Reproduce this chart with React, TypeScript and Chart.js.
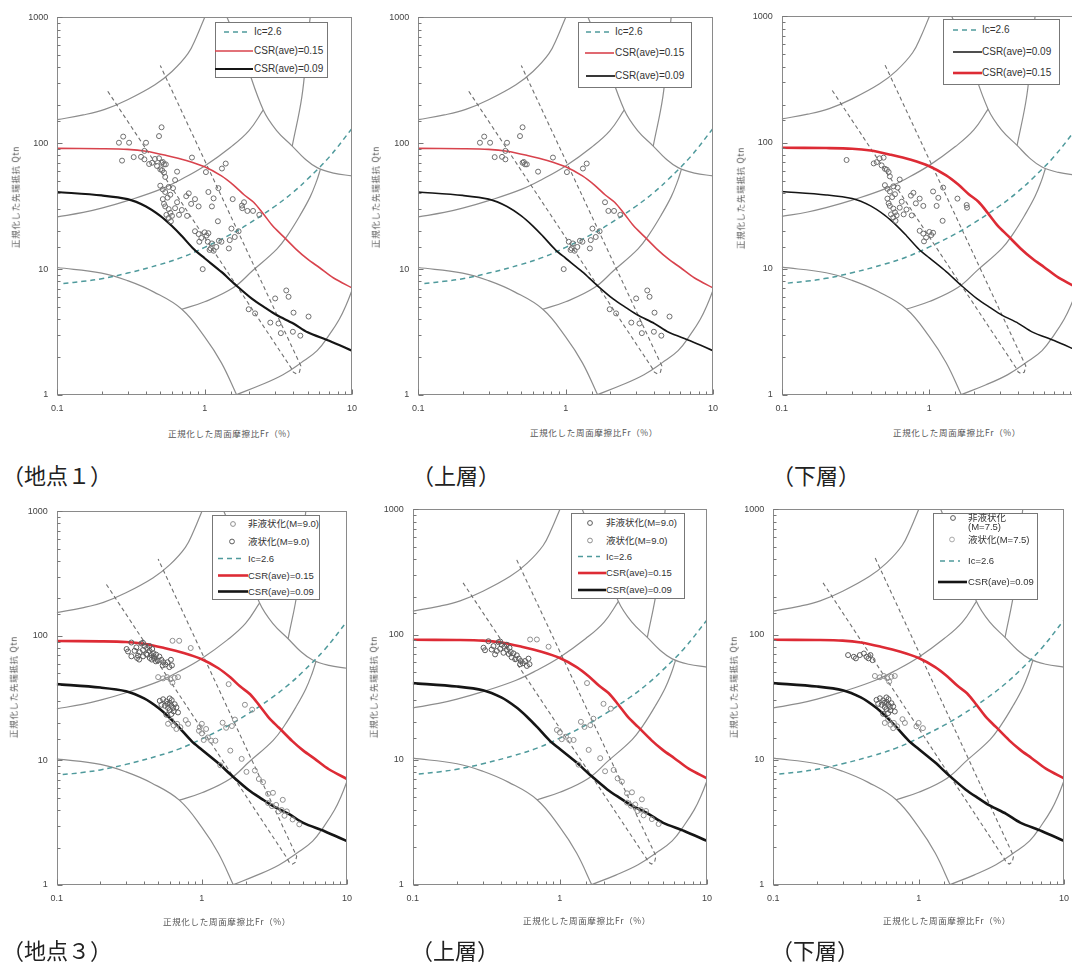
import React, { useEffect, useRef } from "react";
import { Chart, registerables } from "chart.js";

Chart.register(...registerables);

type Pt = [number, number];

// ---------- tick labels ----------
const xTickLabels = ["0.1", "1", "10"];
const yTickLabels = ["1", "10", "100", "1000"];

// ---------- chart boundaries (Fr %, Qtn) ----------
const boundaryIc131: Pt[] = [[0.1, 154], [0.15, 168], [0.21, 186], [0.3, 222], [0.46, 292], [0.6, 372], [0.77, 515], [0.88, 700], [1.0, 1000]];
const boundaryIc205: Pt[] = [[0.1, 26], [0.15, 28.2], [0.2, 30.5], [0.3, 35], [0.5, 43], [0.7, 52], [1.0, 66], [1.5, 93], [2.0, 126], [2.5, 184]];
const boundaryZone1: Pt[] = [[0.1, 10.3], [0.2, 9.3], [0.3, 8.1], [0.45, 6.6], [0.7, 4.8], [1.0, 2.9], [1.3, 1.8], [1.65, 1]];
const boundary34: Pt[] = [[0.7, 4.8], [1.0, 5.5], [1.56, 7.1], [2.13, 9.8], [3.1, 14.5], [3.7, 19], [4.46, 27], [5.2, 37.5], [5.75, 50], [6.1, 62]];
const boundary23: Pt[] = [[1.62, 1], [2.4, 1.2], [3.4, 1.45], [4.5, 1.8], [5.8, 2.25], [7.0, 3.0], [8.2, 4.0], [9.2, 5.3], [10, 6.8]];
const boundaryUpperArc: Pt[] = [[1.42, 1000], [1.84, 485], [2.5, 184], [3.1, 125], [3.93, 95], [4.8, 75], [5.8, 64], [7.5, 58], [10, 55]];
const boundaryUpperVert: Pt[] = [[5.2, 1000], [4.95, 580], [4.57, 235], [3.93, 95]];
const ncBand: Pt[] = [[0.22, 259], [3.85, 1.65], [4.0, 1.52], [4.2, 1.47], [4.4, 1.52], [4.5, 1.7], [0.5, 414]];
const ic26Line: Pt[] = [[0.11, 7.7], [0.15, 8.0], [0.2, 8.4], [0.3, 9.3], [0.5, 10.9], [0.7, 12.4], [1.0, 14.9], [1.5, 18.9], [2.0, 23], [3.0, 31.6], [4.0, 41], [5.0, 52], [7.0, 77.6], [10, 131]];
const csr015: Pt[] = [[0.1, 91], [0.2, 90.5], [0.3, 89.5], [0.4, 86.5], [0.55, 80], [0.75, 73], [1.0, 65], [1.3, 55], [1.57, 46.5], [1.85, 39], [2.15, 34], [2.5, 27.5], [2.9, 22], [3.4, 18.3], [4.2, 14.3], [5.0, 12], [6.0, 10.3], [7.5, 8.5], [10, 7.1]];
const csr009: Pt[] = [[0.1, 41], [0.2, 38.5], [0.3, 36], [0.4, 31.5], [0.5, 26.5], [0.6, 22], [0.7, 18.3], [0.85, 14.3], [1.0, 12.2], [1.3, 9.5], [1.6, 7.6], [2.1, 5.8], [2.6, 4.9], [3.1, 4.3], [4.0, 3.7], [5.0, 3.15], [7.0, 2.7], [10, 2.25]];

// ---------- measured points: site 1 ----------
const site1Upper: Pt[] = [
  [0.262, 101], [0.28, 113], [0.307, 101], [0.33, 77.6], [0.37, 78], [0.39, 74.5], [0.4, 101], [0.39, 87], [0.49, 114], [0.51, 134],
  [0.51, 70], [0.53, 68], [0.545, 68], [0.52, 71], [0.65, 59.5], [0.82, 77], [1.02, 59], [1.31, 63], [1.39, 69],
  [0.97, 10], [1.05, 16.5], [1.1, 14.6], [1.15, 14], [1.2, 15], [1.25, 16.8], [1.3, 16.5], [1.48, 17], [1.46, 14.6], [1.52, 21],
  [1.6, 18], [1.7, 20], [1.85, 34], [1.95, 29], [2.13, 29], [2.35, 27], [1.08, 14.2], [1.12, 16],
  [3.58, 6.77], [3.71, 6.03], [3.01, 5.85], [4.01, 4.51], [5.07, 4.2], [1.99, 4.8], [2.2, 4.45], [2.79, 3.76], [3.17, 3.7],
  [3.29, 3.1], [3.97, 3.18], [4.46, 2.96],
];
const site1Lower: Pt[] = [
  [0.275, 72.8], [0.42, 68.4], [0.44, 70], [0.46, 75], [0.49, 76], [0.475, 66], [0.5, 62], [0.515, 61], [0.53, 58.5], [0.54, 54],
  [0.5, 46], [0.52, 43], [0.54, 41], [0.57, 45], [0.585, 39], [0.63, 51], [0.61, 44], [0.56, 37], [0.52, 36], [0.53, 33],
  [0.54, 31.5], [0.57, 30], [0.585, 28], [0.6, 26.5], [0.57, 25.5], [0.55, 27], [0.59, 24], [0.63, 30.5], [0.65, 34], [0.67, 27],
  [0.7, 29.5], [0.76, 26.5], [0.75, 38], [0.78, 40], [0.81, 33], [0.86, 36], [0.91, 31.5], [1.06, 41], [1.15, 36.5], [1.24, 44],
  [1.12, 31.5], [1.23, 24], [1.55, 36], [1.79, 32], [1.8, 30.5],
  [0.86, 20], [0.91, 19], [0.95, 17.7], [1.0, 19.6], [1.03, 18.5], [1.06, 19.3], [0.92, 16.5],
];

// ---------- measured points: site 3 ----------
const site3UpperNonLiq: Pt[] = [
  [0.303, 78.5], [0.31, 75], [0.327, 88.5], [0.354, 81], [0.373, 74], [0.383, 87], [0.393, 77], [0.403, 83], [0.414, 71.6],
  [0.436, 76], [0.455, 78.5], [0.464, 72.6], [0.484, 70.8], [0.51, 68.3], [0.526, 64.3], [0.543, 61.5], [0.56, 59], [0.58, 61.5],
  [0.597, 56.2], [0.622, 58], [0.612, 64.3], [0.537, 58], [0.344, 76], [0.363, 69.5], [0.497, 63.5], [0.393, 88], [0.436, 83],
  [0.42, 80], [0.45, 70], [0.47, 66],
];
const site3UpperLiq: Pt[] = [
  [0.628, 91.4], [0.698, 91.4], [0.838, 80],
  [0.955, 17.3], [1.0, 16.5], [1.03, 14.6], [1.1, 15.3], [1.16, 14.4], [1.24, 14.4], [1.39, 20.1], [1.47, 18.3], [1.61, 18.9],
  [1.69, 21.3], [1.53, 41], [1.98, 28], [2.22, 25.6],
  [1.34, 9.15], [1.57, 12], [1.88, 10.3], [2.03, 8.1], [2.32, 8.3], [2.47, 7.1], [2.64, 6.7], [2.86, 5.4], [3.09, 5.5],
  [2.86, 4.55], [3.04, 4.3], [3.25, 4.4], [3.37, 3.9], [3.55, 4.0], [3.71, 3.6], [3.85, 3.9], [4.22, 3.36], [4.69, 3.07], [3.61, 4.83],
];
const site3LowerNonLiq: Pt[] = [
  [0.327, 68.6], [0.358, 66.5], [0.37, 64.6], [0.394, 68.6], [0.42, 70.6], [0.438, 66.5], [0.452, 64.6], [0.466, 68.6], [0.482, 62.5],
  [0.513, 30.1], [0.541, 31], [0.57, 29.8], [0.601, 29], [0.617, 27.5], [0.585, 26.4], [0.633, 26.4], [0.65, 28.3], [0.601, 25.4],
  [0.64, 24.8], [0.668, 26.7], [0.57, 23.3], [0.617, 23.6], [0.556, 27.5], [0.527, 28], [0.685, 24.3], [0.6, 31.5], [0.58, 28.5], [0.62, 30.5],
];
const site3LowerLiq: Pt[] = [
  [0.5, 46.7], [0.541, 45.6], [0.576, 46.7], [0.608, 44.8], [0.627, 42.1], [0.65, 46.1], [0.685, 46.7],
  [0.585, 19.7], [0.617, 20.9], [0.64, 19.1], [0.675, 19.7], [0.711, 18.5], [0.774, 21.1], [0.804, 19.7], [0.668, 17.9],
  [0.966, 18.5], [1.07, 17.9], [1.0, 19.7],
];

// ---------- styles ----------
const GRAY = "#8d8d8d";
const TEAL = "#4f9a9c";
const NCGRAY = "#6f6f6f";
const RED = "#dd2b35";
const BLACK = "#151515";
const FONT_LATIN = "'Liberation Sans', Arial, 'Noto Sans CJK JP', sans-serif";
const FONT_JP = "'Noto Sans CJK JP', 'Liberation Sans', sans-serif";

const PADL = 50;
const PADT = 10;
const PADR = 14;
const PADB = 30;

const toXY = (p: Pt[]) => p.map(([x, y]) => ({ x, y }));
const isPow10 = (v: number) => {
  const l = Math.log10(v);
  return Math.abs(l - Math.round(l)) < 1e-6;
};

const frameTicks = {
  id: "frameTicks",
  afterDatasetsDraw(chart: any) {
    const { ctx, chartArea: a, scales } = chart;
    ctx.save();
    ctx.lineWidth = 1;
    ctx.strokeStyle = "#8a8a8a";
    const L = Math.round(a.left) + 0.5;
    const T = Math.round(a.top) + 0.5;
    const R = Math.round(a.right) - 0.5;
    const B = Math.round(a.bottom) - 0.5;
    ctx.strokeRect(L, T, R - L, B - T);
    ctx.strokeStyle = "#777";
    for (const t of scales.x.ticks) {
      const px = Math.round(scales.x.getPixelForValue(t.value)) + 0.5;
      const len = isPow10(t.value) ? 5 : 3;
      ctx.beginPath();
      ctx.moveTo(px, B);
      ctx.lineTo(px, B - len);
      ctx.stroke();
    }
    for (const t of scales.y.ticks) {
      const py = Math.round(scales.y.getPixelForValue(t.value)) + 0.5;
      const len = isPow10(t.value) ? 5 : 3;
      ctx.beginPath();
      ctx.moveTo(L, py);
      ctx.lineTo(L + len, py);
      ctx.stroke();
    }
    ctx.restore();
  },
};

type LegendItem = { kind: "dash" | "red" | "black" | "mark"; y: number; x0: number; x1?: number; label: string; label2?: string; color?: string };
type ScatterSet = { pts: Pt[]; color: string };
type PanelCfg = {
  key: string;
  l: number; t: number; r: number; b: number;
  scatter: ScatterSet[];
  redW: number; redC: string; blackW: number; showRed: boolean;
  legendBox: [number, number, number, number];
  legendFont: number;
  legendTx: number;
  legend: LegendItem[];
  caption: string; capX: number; capY: number;
  xTitle: [number, number]; yTitle: [number, number];
};

const NONLIQ_C = "#5c5c5c";
const LIQ_C = "#8f8f8f";

const panels: PanelCfg[] = [
  {
    key: "p1", l: 57.3, t: 13.3, r: 351.7, b: 395,
    scatter: [{ pts: [...site1Upper, ...site1Lower], color: "#6e6e6e" }],
    redW: 1.6, redC: "#d8434d", blackW: 2.2, showRed: true,
    legendBox: [215, 22, 113, 56], legendFont: 10, legendTx: 254,
    legend: [
      { kind: "dash", y: 32, x0: 224, x1: 250, label: "Ic=2.6" },
      { kind: "red", y: 51, x0: 215, x1: 253, label: "CSR(ave)=0.15" },
      { kind: "black", y: 69, x0: 215, x1: 253, label: "CSR(ave)=0.09" },
    ],
    caption: "（地点１）", capX: 2, capY: 463, xTitle: [232, 433], yTitle: [15, 197],
  },
  {
    key: "p2", l: 418.3, t: 13.3, r: 713.3, b: 395,
    scatter: [{ pts: site1Upper, color: "#6e6e6e" }],
    redW: 1.6, redC: "#d8434d", blackW: 1.7, showRed: true,
    legendBox: [578, 22, 114, 66], legendFont: 10, legendTx: 615,
    legend: [
      { kind: "dash", y: 32, x0: 586, x1: 611, label: "Ic=2.6" },
      { kind: "red", y: 53, x0: 585, x1: 614, label: "CSR(ave)=0.15" },
      { kind: "black", y: 76, x0: 586, x1: 615, label: "CSR(ave)=0.09" },
    ],
    caption: "（上層）", capX: 412, capY: 463, xTitle: [594, 432], yTitle: [375, 197],
  },
  {
    key: "p3", l: 781.7, t: 12, r: 1076.9, b: 395,
    scatter: [{ pts: site1Lower, color: "#6e6e6e" }],
    redW: 2.6, redC: RED, blackW: 1.5, showRed: true,
    legendBox: [943, 19, 117, 66], legendFont: 10, legendTx: 982,
    legend: [
      { kind: "dash", y: 30, x0: 953, x1: 977, label: "Ic=2.6" },
      { kind: "black", y: 52, x0: 953, x1: 982, label: "CSR(ave)=0.09" },
      { kind: "red", y: 73, x0: 953, x1: 982, label: "CSR(ave)=0.15" },
    ],
    caption: "（下層）", capX: 772, capY: 463, xTitle: [957, 432], yTitle: [740, 198],
  },
  {
    key: "p4", l: 56.7, t: 506.7, r: 346.7, b: 885,
    scatter: [
      { pts: [...site3UpperNonLiq, ...site3LowerNonLiq], color: NONLIQ_C },
      { pts: [...site3UpperLiq, ...site3LowerLiq], color: LIQ_C },
    ],
    redW: 2.6, redC: RED, blackW: 2.6, showRed: true,
    legendBox: [212, 515, 108, 85], legendFont: 9.5, legendTx: 248,
    legend: [
      { kind: "mark", y: 524, x0: 233, label: "非液状化(M=9.0)", color: LIQ_C },
      { kind: "mark", y: 541.5, x0: 232, label: "液状化(M=9.0)", color: NONLIQ_C },
      { kind: "dash", y: 558.5, x0: 218, x1: 242, label: "Ic=2.6" },
      { kind: "red", y: 575.5, x0: 218, x1: 248, label: "CSR(ave)=0.15" },
      { kind: "black", y: 591.5, x0: 218, x1: 248, label: "CSR(ave)=0.09" },
    ],
    caption: "（地点３）", capX: 2, capY: 938, xTitle: [227, 921], yTitle: [13, 687],
  },
  {
    key: "p5", l: 412.7, t: 505, r: 706.7, b: 885,
    scatter: [
      { pts: site3UpperNonLiq, color: NONLIQ_C },
      { pts: site3UpperLiq, color: LIQ_C },
    ],
    redW: 2.6, redC: RED, blackW: 2.6, showRed: true,
    legendBox: [571, 513, 114, 86], legendFont: 9.5, legendTx: 606,
    legend: [
      { kind: "mark", y: 523, x0: 590, label: "非液状化(M=9.0)", color: NONLIQ_C },
      { kind: "mark", y: 540.5, x0: 590, label: "液状化(M=9.0)", color: LIQ_C },
      { kind: "dash", y: 556.5, x0: 578, x1: 600, label: "Ic=2.6" },
      { kind: "red", y: 573, x0: 578, x1: 606, label: "CSR(ave)=0.15" },
      { kind: "black", y: 590, x0: 578, x1: 606, label: "CSR(ave)=0.09" },
    ],
    caption: "（上層）", capX: 411, capY: 938, xTitle: [587, 920], yTitle: [373, 687],
  },
  {
    key: "p6", l: 773.3, t: 505, r: 1064.3, b: 885,
    scatter: [
      { pts: site3LowerNonLiq, color: NONLIQ_C },
      { pts: site3LowerLiq, color: LIQ_C },
    ],
    redW: 2.6, redC: RED, blackW: 2.6, showRed: true,
    legendBox: [933, 513, 105, 87], legendFont: 9.5, legendTx: 968,
    legend: [
      { kind: "mark", y: 518, x0: 953, label: "非液状化", label2: "(M=7.5)", color: NONLIQ_C },
      { kind: "mark", y: 539.5, x0: 952, label: "液状化(M=7.5)", color: "#a8a8a8" },
      { kind: "dash", y: 561, x0: 940, x1: 960, label: "Ic=2.6" },
      { kind: "black", y: 582, x0: 938, x1: 967, label: "CSR(ave)=0.09" },
    ],
    caption: "（下層）", capX: 771, capY: 938, xTitle: [947, 920], yTitle: [733, 687],
  },
];

function lineDs(pts: Pt[], color: string, width: number, dash: number[] = [], tension = 0.4) {
  return {
    data: toXY(pts),
    showLine: true,
    borderColor: color,
    borderWidth: width,
    borderDash: dash,
    pointRadius: 0,
    fill: false,
    tension,
  };
}

function Panel({ cfg }: { cfg: PanelCfg }) {
  const ref = useRef<HTMLCanvasElement>(null);
  const left = Math.round(cfg.l - PADL);
  const top = Math.round(cfg.t - PADT);
  const width = Math.round(cfg.r + PADR - left);
  const height = Math.round(cfg.b + PADB - top);

  useEffect(() => {
    if (!ref.current) return;
    const datasets: any[] = [];
    cfg.scatter.forEach((s) => {
      datasets.push({
        data: toXY(s.pts),
        showLine: false,
        pointRadius: 2.5,
        pointBorderWidth: 1,
        pointBorderColor: s.color,
        pointBackgroundColor: "rgba(255,255,255,0)",
      });
    });
    if (cfg.showRed) datasets.push(lineDs(csr015, cfg.redC, cfg.redW, [], 0.3));
    datasets.push(lineDs(csr009, BLACK, cfg.blackW, [], 0.3));
    datasets.push(lineDs(ic26Line, TEAL, 1.5, [5, 4]));
    datasets.push(lineDs(ncBand, NCGRAY, 1.1, [4, 3], 0));
    [boundaryIc131, boundaryIc205, boundaryZone1, boundary34, boundary23, boundaryUpperArc, boundaryUpperVert].forEach((b) =>
      datasets.push(lineDs(b, GRAY, 1.2))
    );

    const tickFont = { size: 9, family: FONT_LATIN };
    const chart = new Chart(ref.current, {
      type: "scatter",
      data: { datasets },
      options: {
        animation: false,
        responsive: false,
        events: [],
        layout: { padding: { left: cfg.l - left - PADL, top: cfg.t - top, right: PADR, bottom: 0 } },
        plugins: { legend: { display: false }, tooltip: { enabled: false }, title: { display: false } },
        scales: {
          x: {
            type: "logarithmic",
            min: 0.1,
            max: 10,
            grid: { display: false, drawTicks: false },
            border: { display: false },
            ticks: {
              autoSkip: false,
              maxRotation: 0,
              padding: 8,
              color: "#444",
              font: tickFont,
              callback: (v: any) => (isPow10(Number(v)) ? xTickLabels[Math.round(Math.log10(Number(v))) + 1] : ""),
            },
            afterFit: (s: any) => {
              s.height = PADB;
            },
          },
          y: {
            type: "logarithmic",
            min: 1,
            max: 1000,
            grid: { display: false, drawTicks: false },
            border: { display: false },
            ticks: {
              autoSkip: false,
              padding: 9,
              color: "#444",
              font: tickFont,
              callback: (v: any) => (isPow10(Number(v)) ? yTickLabels[Math.round(Math.log10(Number(v)))] : ""),
            },
            afterFit: (s: any) => {
              s.width = PADL;
            },
          },
        },
      },
      plugins: [frameTicks],
    } as any);
    return () => chart.destroy();
  }, []);

  const [bl, bt, bw, bh] = cfg.legendBox;
  const legendSvg = (
    <svg style={{ position: "absolute", left: bl, top: bt, overflow: "visible" }} width={bw} height={bh}>
      {cfg.legend.map((it, i) => {
        const y = it.y - bt;
        if (it.kind === "mark") {
          return <circle key={i} cx={it.x0 - bl} cy={y} r={2.4} fill="none" stroke={it.color} strokeWidth={1} />;
        }
        const color = it.kind === "dash" ? TEAL : it.kind === "red" ? cfg.redC : BLACK;
        const w = it.kind === "dash" ? 1.5 : it.kind === "red" ? cfg.redW : cfg.blackW;
        return (
          <line key={i} x1={it.x0 - bl} x2={(it.x1 || it.x0) - bl} y1={y} y2={y} stroke={color} strokeWidth={w}
            strokeDasharray={it.kind === "dash" ? "5 4" : undefined} />
        );
      })}
    </svg>
  );

  return (
    <>
      <div style={{ position: "absolute", left, top, width, height }}>
        <canvas ref={ref} width={width} height={height} style={{ display: "block" }} />
      </div>
      <div style={{ position: "absolute", left: bl, top: bt, width: bw, height: bh, border: "1px solid #777", background: "#fff", boxSizing: "border-box" }} />
      {legendSvg}
      {cfg.legend.map((it, i) => (
        <React.Fragment key={"t" + i}>
          <div style={{ position: "absolute", left: cfg.legendTx, top: it.y, transform: "translateY(-50%)", fontSize: cfg.legendFont, lineHeight: 1, fontFamily: FONT_LATIN, color: "#333", whiteSpace: "nowrap" }}>
            {it.label}
          </div>
          {it.label2 ? (
            <div style={{ position: "absolute", left: cfg.legendTx, top: it.y + 9, transform: "translateY(-50%)", fontSize: cfg.legendFont, lineHeight: 1, fontFamily: FONT_LATIN, color: "#333", whiteSpace: "nowrap" }}>
              {it.label2}
            </div>
          ) : null}
        </React.Fragment>
      ))}
      <div style={{ position: "absolute", left: cfg.xTitle[0], top: cfg.xTitle[1], transform: "translate(-50%,-50%)", fontSize: 8.5, letterSpacing: 0.7, fontFamily: FONT_JP, color: "#555", whiteSpace: "nowrap", lineHeight: 1 }}>
        正規化した周面摩擦比Fr（%）
      </div>
      <div style={{ position: "absolute", left: cfg.yTitle[0], top: cfg.yTitle[1], transform: "translate(-50%,-50%) rotate(-90deg)", fontSize: 8.5, letterSpacing: 0.7, fontFamily: FONT_JP, color: "#555", whiteSpace: "nowrap", lineHeight: 1 }}>
        正規化した先端抵抗 Qtn
      </div>
      <div style={{ position: "absolute", left: cfg.capX, top: cfg.capY, fontSize: 22, lineHeight: 1, fontFamily: FONT_JP, color: "#222", whiteSpace: "nowrap" }}>
        {cfg.caption}
      </div>
    </>
  );
}

export default function App() {
  return (
    <div style={{ position: "fixed", left: 0, top: 0, width: 1072, height: 970, overflow: "hidden", background: "#fff" }}>
      {panels.map((p) => (
        <Panel key={p.key} cfg={p} />
      ))}
    </div>
  );
}
